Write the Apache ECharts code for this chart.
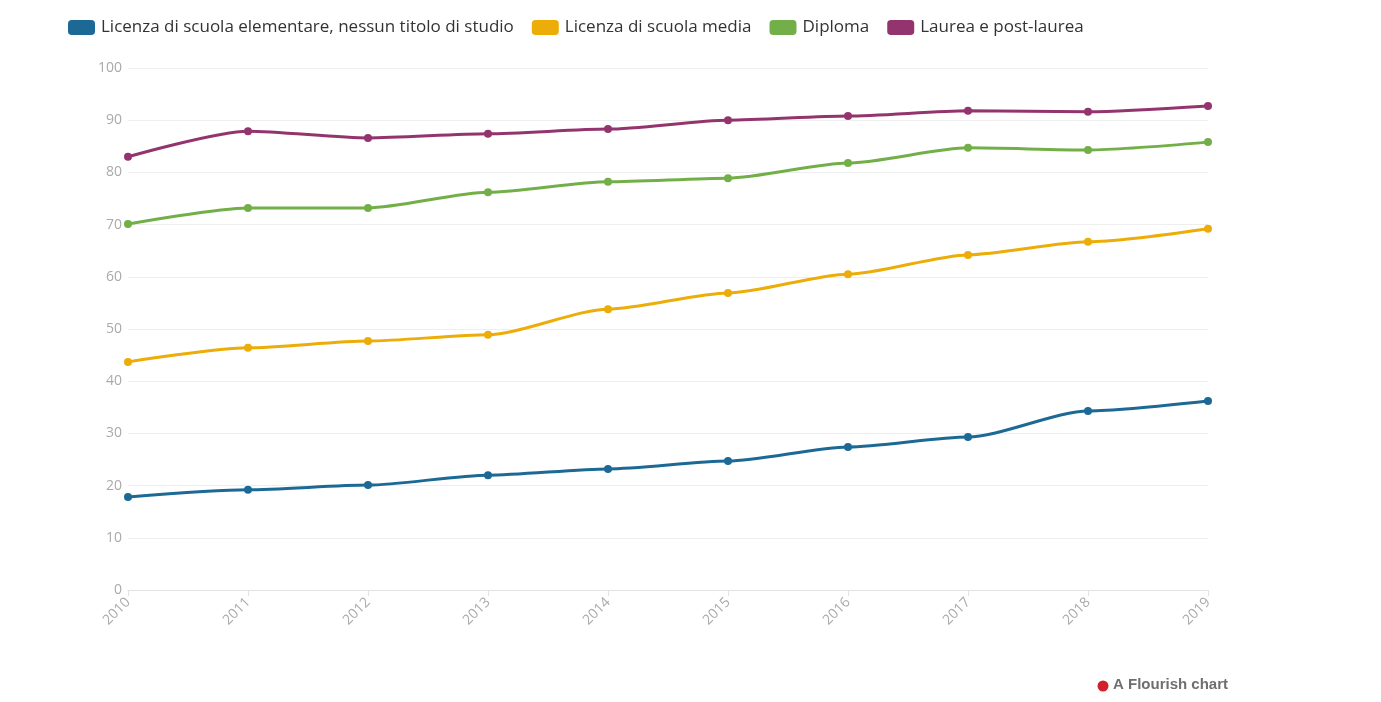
<!DOCTYPE html>
<html>
<head>
<meta charset="utf-8">
<script src="https://cdn.jsdelivr.net/npm/echarts@6/dist/echarts.min.js"></script>
<style>
html,body{margin:0;padding:0;background:#fff;}
#c{width:1381px;height:702px;}
</style>
</head>
<body>
<div id="c"></div>
<script>
const years = ['2010','2011','2012','2013','2014','2015','2016','2017','2018','2019'];
const seriesNames = ['Licenza di scuola elementare, nessun titolo di studio','Licenza di scuola media','Diploma','Laurea e post-laurea'];
const elementare = [17.8, 19.2, 20.1, 22.0, 23.2, 24.7, 27.4, 29.3, 34.3, 36.2];
const media = [43.7, 46.4, 47.7, 48.9, 53.8, 56.9, 60.5, 64.2, 66.7, 69.2];
const diploma = [70.1, 73.2, 73.2, 76.2, 78.2, 78.9, 81.8, 84.7, 84.3, 85.8];
const laurea = [83.0, 87.9, 86.6, 87.4, 88.3, 90.0, 90.8, 91.8, 91.6, 92.7];
const colors = ['#1d6996', '#edad08', '#73af48', '#94346e'];

const chart = echarts.init(document.getElementById('c'));
const dataSets = [elementare, media, diploma, laurea];
chart.setOption({
  animation: false,
  color: colors,
  legend: {
    left: 63, top: 14,
    itemWidth: 27, itemHeight: 15, itemGap: 18,
    icon: 'roundRect',
    textStyle: { fontFamily: 'Open Sans', fontSize: 17, color: '#333', padding: [0, 0, 0, 1] },
    data: seriesNames
  },
  grid: { left: 128, right: 173, top: 68, bottom: 112 },
  xAxis: {
    type: 'category', boundaryGap: false, data: years,
    axisLine: { lineStyle: { color: '#e2e2e2' } },
    axisTick: { show: true, length: 6, lineStyle: { color: '#e2e2e2' } },
    axisLabel: { rotate: 45, color: '#aaa', fontFamily: 'Open Sans', fontSize: 14, margin: 10 },
    splitLine: { show: false }
  },
  yAxis: {
    type: 'value', min: 0, max: 100, interval: 10,
    axisLine: { show: false }, axisTick: { show: false },
    axisLabel: { color: '#aaa', fontFamily: 'Open Sans', fontSize: 14, margin: 6 },
    splitLine: { lineStyle: { color: '#eeeeee' } }
  },
  series: dataSets.map((d, i) => ({
    name: seriesNames[i], type: 'line', data: d,
    smooth: 0.25, smoothMonotone: 'x',
    symbol: 'circle', symbolSize: 8,
    lineStyle: { width: 3 },
    itemStyle: { color: colors[i] }
  })),
  graphic: [
    { type: 'circle', shape: { cx: 1103, cy: 686, r: 5.5 }, style: { fill: '#d0202a' } },
    { type: 'text', left: 1113, top: 677, style: { text: 'A Flourish chart', font: 'bold 15px Liberation Sans', fill: '#6f6f6f' } }
  ]
});
</script>
</body>
</html>
